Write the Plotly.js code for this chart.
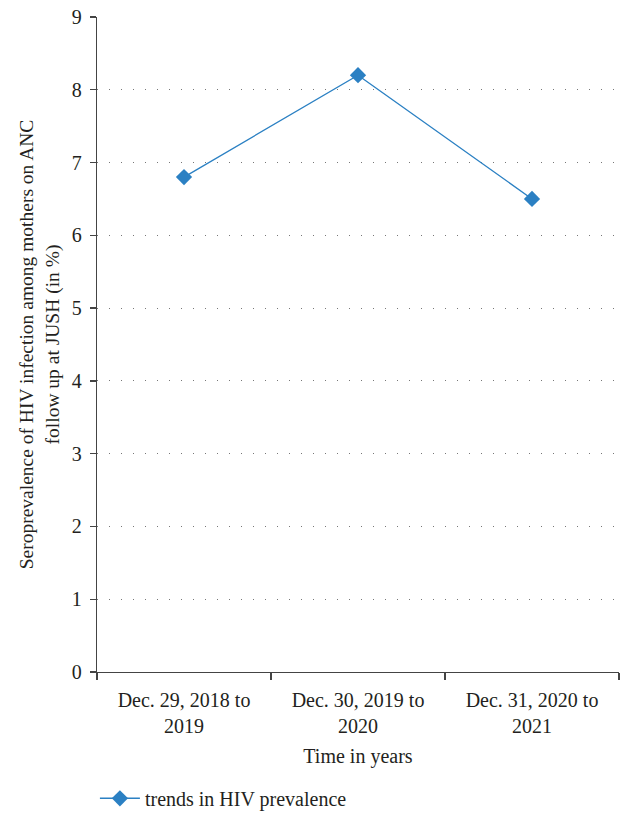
<!DOCTYPE html>
<html>
<head>
<meta charset="utf-8">
<script src="https://cdn.plot.ly/plotly-3.0.1.min.js"></script>
<style>html,body{margin:0;padding:0;background:#fff;}#chart{width:621px;height:814px;}</style>
</head>
<body>
<div id="chart"></div>
<script>
const categories = ["Dec. 29, 2018 to<br>2019", "Dec. 30, 2019 to<br>2020", "Dec. 31, 2020 to<br>2021"];
const prevalence = [6.8, 8.2, 6.5];
const seriesName = "trends in HIV prevalence";
const yTickValues = [0, 1, 2, 3, 4, 5, 6, 7, 8, 9];

const FONT = "Liberation Serif, Times New Roman, serif";
const TXT = "#231f20";

const trace = {
  x: categories,
  y: prevalence,
  name: seriesName,
  type: "scatter",
  mode: "lines+markers",
  line: {color: "#2b80c3", width: 1.3},
  marker: {symbol: "diamond", size: 12.5, color: "#2b80c3"}
};

const layout = {
  width: 621, height: 814,
  margin: {l: 97, r: 2, t: 17, b: 142, autoexpand: false},
  paper_bgcolor: "#fff", plot_bgcolor: "#fff",
  font: {family: FONT, size: 20, color: TXT},
  showlegend: true,
  legend: {x: -0.004, xanchor: "left", y: -0.163, yanchor: "top", itemwidth: 40,
           font: {family: FONT, size: 20, color: TXT}, bgcolor: "rgba(0,0,0,0)"},
  xaxis: {
    type: "category",
    range: [-0.5, 2.5],
    automargin: false,
    showline: true, linecolor: "#444", linewidth: 1.3,
    ticks: "outside", ticklen: 7, tickcolor: "#444", tickwidth: 1.3,
    tickson: "boundaries",
    ticklabelstandoff: 10,
    showgrid: false, zeroline: false,
    tickfont: {family: FONT, size: 20, color: TXT},
    title: {text: "Time in years", font: {family: FONT, size: 20, color: TXT}, standoff: 12}
  },
  yaxis: {
    range: [0, 9],
    automargin: false,
    tickvals: yTickValues,
    showline: true, linecolor: "#444", linewidth: 1.3,
    ticks: "outside", ticklen: 6, tickcolor: "#444", tickwidth: 1.3,
    ticklabelstandoff: 4,
    showgrid: true, gridcolor: "#777", gridwidth: 1, griddash: "1px,11px",
    zeroline: false,
    tickfont: {family: FONT, size: 20, color: TXT},
    title: {text: "Seroprevalence of HIV infection among mothers on ANC<br>follow up at JUSH (in %)",
            font: {family: FONT, size: 19.5, color: TXT}, standoff: 7}
  }
};

Plotly.newPlot("chart", [trace], layout, {displayModeBar: false, staticPlot: true});
</script>
</body>
</html>
